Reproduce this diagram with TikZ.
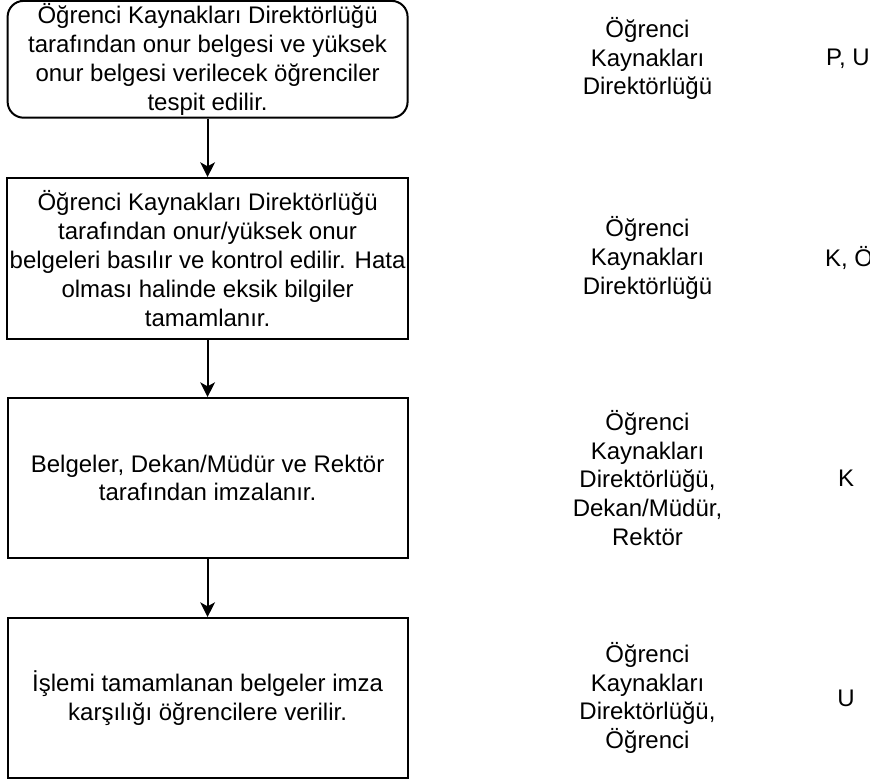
\documentclass[tikz,border=0pt]{standalone}
\usepackage{fontspec}
\setmainfont{Liberation Sans}
\usetikzlibrary{arrows.meta}
\tikzset{
  procbox/.style={draw=black, line width=1.5pt, minimum width=300pt, align=center, inner sep=2pt, font=\fontsize{18}{21.6}\selectfont},
  startbox/.style={procbox, rounded corners=12pt},
  lbl/.style={align=center, inner sep=0pt, font=\fontsize{18}{21.6}\selectfont},
  flow/.style={line width=1.5pt, -{Stealth[length=11pt,width=11pt,inset=3pt]}}
}
\begin{document}
\begin{tikzpicture}[x=0.75pt,y=-0.75pt]
\useasboundingbox (0,0) rectangle (870,782);
\node[startbox, minimum height=87.4pt] (b1) at (207.6,59.3) {Öğrenci Kaynakları Direktörlüğü\\tarafından onur belgesi ve yüksek\\onur belgesi verilecek öğrenciler\\tespit edilir.};
\node[procbox, minimum height=120.75pt] (b2) at (207.6,258.5) {Öğrenci Kaynakları Direktörlüğü\\tarafından onur/yüksek onur\\belgeleri basılır ve kontrol edilir. Hata\\olması halinde eksik bilgiler\\tamamlanır.};
\node[procbox, minimum height=120pt] (b3) at (207.6,478) {Belgeler, Dekan/Müdür ve Rektör\\tarafından imzalanır.};
\node[procbox, minimum height=120pt] (b4) at (207.6,698) {İşlemi tamamlanan belgeler imza\\karşılığı öğrencilere verilir.};
\draw[flow] (b1) -- (b2);
\draw[flow] (b2) -- (b3);
\draw[flow] (b3) -- (b4);
\node[lbl] (r1) at (647.5,58.5) {Öğrenci\\Kaynakları\\Direktörlüğü};
\node[lbl] (r2) at (647.5,258) {Öğrenci\\Kaynakları\\Direktörlüğü};
\node[lbl] (r3) at (647.5,478) {Öğrenci\\Kaynakları\\Direktörlüğü,\\Dekan/Müdür,\\Rektör};
\node[lbl] (r4) at (647.5,698) {Öğrenci\\Kaynakları\\Direktörlüğü,\\Öğrenci};
\node[lbl] (c1) at (848,58.5) {P, U};
\node[lbl] (c2) at (849,258) {K, Ö};
\node[lbl] (c3) at (846,478) {K};
\node[lbl] (c4) at (846,698) {U};
\end{tikzpicture}
\end{document}
